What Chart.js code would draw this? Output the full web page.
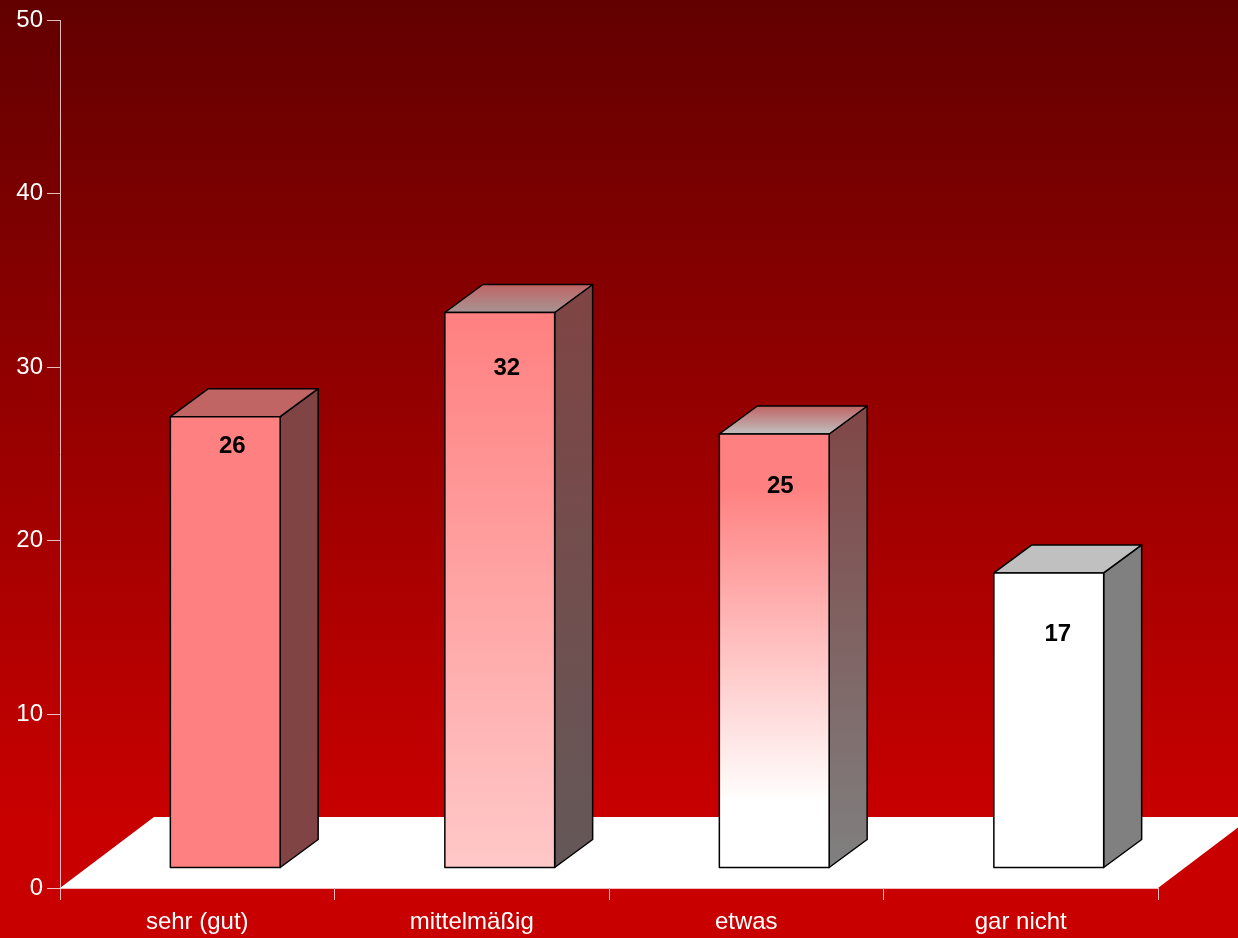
<!DOCTYPE html>
<html>
<head>
<meta charset="utf-8">
<script src="https://cdn.jsdelivr.net/npm/chart.js@4/dist/chart.umd.min.js"></script>
<style>
html,body{margin:0;padding:0;background:#c80000;}
canvas{display:block;}
</style>
</head>
<body>
<canvas id="c" width="1238" height="938"></canvas>
<script>
const categories = ['sehr (gut)', 'mittelmäßig', 'etwas', 'gar nicht'];
const values = [26, 32, 25, 17];
const yTickStep = 10;
const yMin = 0;
const yMax = 50;

// styling (not data)
const frontTop    = ['#ff8080', '#ff8080', '#ff8080', '#ffffff'];
const frontBottom = ['#ff8080', '#ffc8c8', '#ffffff', '#ffffff'];
const sideTop     = ['#804444', '#804444', '#804646', '#808080'];
const sideBottom  = ['#804444', '#645858', '#808080', '#808080'];
const topBack     = ['#c06464', '#c06464', '#c06464', '#c0c0c0'];
const topFront    = ['#c06464', '#a89494', '#c0c0c0', '#c0c0c0'];
const frontStops  = [[0,0,1,1],[0,0,1,1],[0,0.12,0.85,1],[0,0,1,1]];
const labelShift  = [[7,30],[7,56],[6,52],[9,61]];

const FONT = "'Liberation Sans', Arial, sans-serif";
const axisColor = 'rgba(255,235,235,0.8)';

const bar3d = {
  id: 'bar3d',
  beforeDraw(chart) {
    const ctx = chart.ctx, W = chart.width, H = chart.height, a = chart.chartArea;
    ctx.save();
    const g = ctx.createLinearGradient(0, 0, 0, H);
    g.addColorStop(0, '#620000');
    g.addColorStop(0.87, '#c80000');
    g.addColorStop(1, '#c80000');
    ctx.fillStyle = g;
    ctx.fillRect(0, 0, W, H);
    // floor
    const fdx = 94, fdy = -71;
    ctx.beginPath();
    ctx.moveTo(a.left, a.bottom);
    ctx.lineTo(a.right, a.bottom);
    ctx.lineTo(a.right + fdx, a.bottom + fdy);
    ctx.lineTo(a.left + fdx, a.bottom + fdy);
    ctx.closePath();
    ctx.fillStyle = '#ffffff';
    ctx.fill();
    ctx.restore();
  },
  afterDatasetsDraw(chart) {
    const ctx = chart.ctx;
    const meta = chart.getDatasetMeta(0);
    const sx = 28, sy = -20, dx = 38, dy = -28;
    ctx.save();
    ctx.lineWidth = 1.5;
    ctx.strokeStyle = '#000';
    ctx.lineJoin = 'round';
    meta.data.forEach((el, i) => {
      const p = el.getProps(['x','y','base','width'], true);
      const L = p.x - p.width/2 + sx, R = p.x + p.width/2 + sx;
      const T = p.y + sy, B = p.base + sy;
      // side
      let g = ctx.createLinearGradient(0, T + dy, 0, B);
      g.addColorStop(0, sideTop[i]); g.addColorStop(1, sideBottom[i]);
      ctx.beginPath();
      ctx.moveTo(R, T); ctx.lineTo(R + dx, T + dy); ctx.lineTo(R + dx, B + dy); ctx.lineTo(R, B); ctx.closePath();
      ctx.fillStyle = g; ctx.fill(); ctx.stroke();
      // top
      g = ctx.createLinearGradient(0, T + dy, 0, T);
      g.addColorStop(0, topBack[i]); g.addColorStop(1, topFront[i]);
      ctx.beginPath();
      ctx.moveTo(L, T); ctx.lineTo(L + dx, T + dy); ctx.lineTo(R + dx, T + dy); ctx.lineTo(R, T); ctx.closePath();
      ctx.fillStyle = g; ctx.fill(); ctx.stroke();
      // front
      g = ctx.createLinearGradient(0, T, 0, B);
      const st = frontStops[i];
      g.addColorStop(st[0], frontTop[i]);
      g.addColorStop(st[1], frontTop[i]);
      g.addColorStop(st[2], frontBottom[i]);
      g.addColorStop(st[3], frontBottom[i]);
      ctx.beginPath();
      ctx.rect(L, T, R - L, B - T);
      ctx.fillStyle = g; ctx.fill(); ctx.stroke();
      // label
      ctx.fillStyle = '#000';
      ctx.font = 'bold 24px ' + FONT;
      ctx.textAlign = 'center';
      ctx.textBaseline = 'middle';
      ctx.fillText(String(values[i]), (L + R)/2 + labelShift[i][0], T + labelShift[i][1]);
    });
    ctx.restore();
  }
};

new Chart(document.getElementById('c'), {
  type: 'bar',
  data: {
    labels: categories,
    datasets: [{
      data: values,
      backgroundColor: 'rgba(0,0,0,0)',
      borderWidth: 0,
      barPercentage: 0.4,
      categoryPercentage: 1
    }]
  },
  options: {
    responsive: false,
    animation: false,
    devicePixelRatio: 1,
    layout: { padding: { top: 20, right: 80, left: 0, bottom: 0 } },
    plugins: { legend: { display: false }, tooltip: { enabled: false } },
    scales: {
      x: {
        offset: true,
        grid: { offset: true, drawOnChartArea: false, drawTicks: true, tickLength: 12, color: axisColor, lineWidth: 1 },
        border: { display: true, color: axisColor, width: 1 },
        ticks: { color: '#ffffff', font: { family: FONT, size: 24 }, padding: 8, maxRotation: 0 },
        afterFit(s) { s.height = 50; }
      },
      y: {
        min: yMin, max: yMax,
        grid: { drawOnChartArea: false, drawTicks: true, tickLength: 13, color: axisColor, lineWidth: 1 },
        border: { display: true, color: axisColor, width: 1 },
        ticks: { stepSize: yTickStep, color: '#ffffff', font: { family: FONT, size: 24 }, padding: 4 },
        afterFit(s) { s.width = 60; }
      }
    }
  },
  plugins: [bar3d]
});
</script>
</body>
</html>
